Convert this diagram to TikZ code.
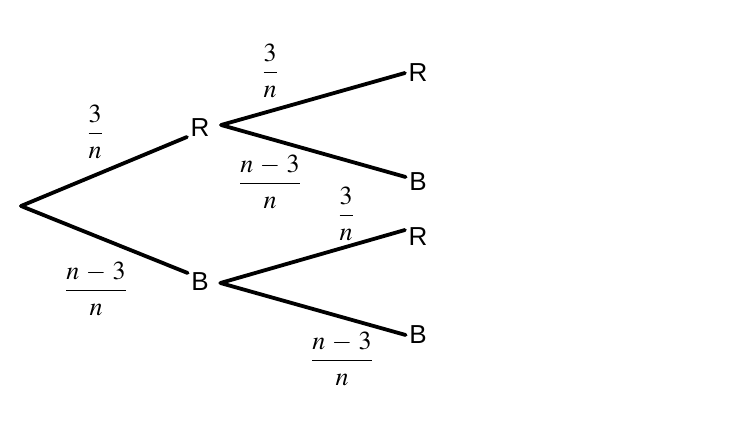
\documentclass[tikz,border=0pt]{standalone}
\usepackage{amsmath}
\usepackage{mathptmx}
\usepackage{fontspec}
\setmainfont{Liberation Sans}
\usetikzlibrary{positioning}

\newcommand{\probfrac}[2]{\scalebox{2.6}{$\dfrac{#1}{#2}$}}

\begin{document}
\begin{tikzpicture}[x=1pt,y=-1pt,
		leaf/.style={inner xsep=3.5pt, inner ysep=2pt, font=\fontsize{26}{30}\selectfont},
		prob/.style={inner sep=0pt},
		branch/.style={line width=3.8pt, line cap=round}
		]
		\useasboundingbox (0,0) rectangle (750,427);
		
		% --- Tree nodes ---
		\coordinate (root) at (21,206);
		\node[leaf] (R1) at (200,128) {R};
		\node[leaf] (B1) at (200,282) {B};
		
		\node[leaf] (RR) at (418,73) {R};
		\node[leaf] (RB) at (418,182) {B};
		\node[leaf] (BR) at (418,237) {R};
		\node[leaf] (BB) at (418,335) {B};
		
		% --- Branches ---
		\draw[branch] (root) -- ([yshift=-9pt]R1.west);
		\draw[branch] (root) -- ([yshift=9pt]B1.west);
		
		\draw[branch] ([shift={(8pt,3pt)}]R1.east) -- (RR.west);
		\draw[branch] ([shift={(8pt,3pt)}]R1.east) -- ([yshift=5pt]RB.west);
		\draw[branch] ([shift={(8pt,-1pt)}]B1.east) -- ([yshift=7pt]BR.west);
		\draw[branch] ([shift={(8pt,-1pt)}]B1.east) -- (BB.west);
		
		% --- Probabilities ---
		\node[prob] (pR1) at (95,132) {\probfrac{3}{n}};
		\node[prob] (pB1) at (96,289) {\probfrac{n\,-\,3}{n}};
		\node[prob] (pRR) at (270,71) {\probfrac{3}{n}};
		\node[prob] (pRB) at (270,182) {\probfrac{n\,-\,3}{n}};
		\node[prob] (pBR) at (346,214) {\probfrac{3}{n}};
		\node[prob] (pBB) at (342,359) {\probfrac{n\,-\,3}{n}};
		
	\end{tikzpicture}
\end{document}
